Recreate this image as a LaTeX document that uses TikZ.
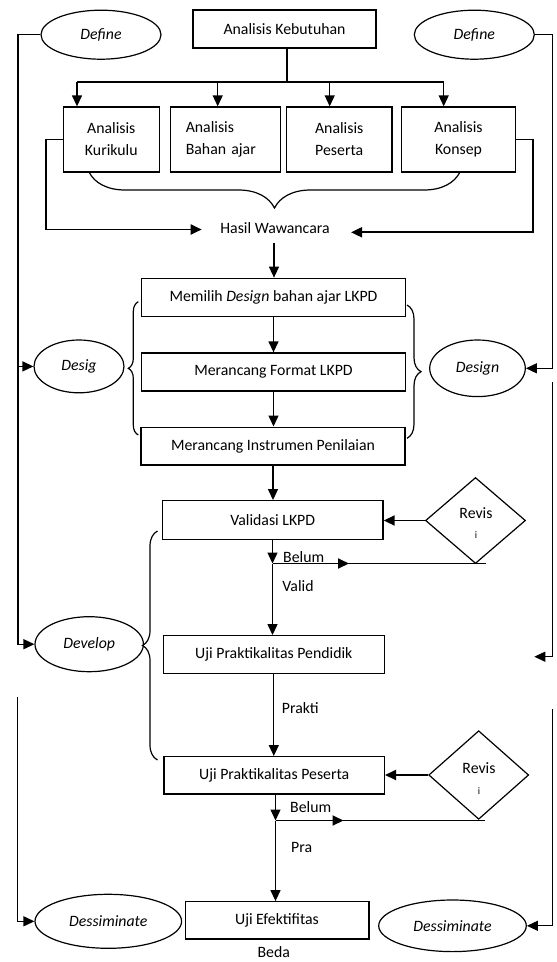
\documentclass[tikz,border=0pt]{standalone}
\usepackage{fontspec}
\setmainfont{Carlito}
\usetikzlibrary{shapes.geometric,arrows.meta,decorations.pathreplacing,calc}
\begin{document}
\begin{tikzpicture}[x=1pt,y=-1pt,
  every node/.style={font=\fontsize{15.8}{22}\selectfont},
  box/.style={draw, line width=1.3pt, inner sep=0pt, align=center},
  oval/.style={draw, ellipse, line width=1.2pt, inner sep=0pt, font=\fontsize{15.8}{19}\selectfont\itshape},
  dia/.style={draw, diamond, line width=1.2pt, inner sep=0pt, align=center},
  line/.style={line width=1.3pt},
  arr/.style={line width=1.3pt, -{Triangle[length=11pt,width=10pt]}},
  tarr/.style={line width=1.9pt, -{Triangle[length=11pt,width=10pt]}},
  brc/.style={decorate, decoration={brace, amplitude=#1}, line width=1.2pt},
  lbl/.style={inner sep=0pt},
  small/.style={inner sep=0pt, font=\fontsize{10}{10}\selectfont}
]
\useasboundingbox (0,0) rectangle (557,962);

% top
\node[box, minimum width=183pt, minimum height=38pt] (keb) at (284.5,29) {Analisis Kebutuhan};
\node[box, minimum width=96pt, minimum height=65pt] (a1) at (111.3,139.5) {Analisis\\Kurikulu};
\node[box, minimum width=110pt, minimum height=65pt, align=left, text width=79pt] (a2) at (225.3,139.5) {Analisis\\Bahan ajar};
\node[box, minimum width=105.7pt, minimum height=65pt] (a3) at (339.2,139.5) {Analisis\\Peserta};
\node[box, minimum width=114.4pt, minimum height=65pt] (a4) at (458.5,139.5) {Analisis\\Konsep};
\node[lbl] (hasil) at (275,228) {Hasil Wawancara};

% ellipses
\node[oval, minimum width=120pt, minimum height=49pt] (defL) at (101,34.7) {Define};
\node[oval, minimum width=120pt, minimum height=49pt] (defR) at (474.3,34.7) {Define};
\node[oval, minimum width=90pt, minimum height=52.8pt] (desigL) at (79,366.4) {Desig};
\node[oval, minimum width=95.6pt, minimum height=56.6pt] (designR) at (477.5,368.3) {Design};
\node[oval, minimum width=108.4pt, minimum height=55pt] (devL) at (89.2,644.2) {Develop};
\node[oval, minimum width=146.6pt, minimum height=54pt] (dessL) at (108.3,921.3) {Dessiminate};
\node[oval, minimum width=147.6pt, minimum height=51.6pt] (dessR) at (452.5,925.8) {Dessiminate};

% design boxes
\node[box, minimum width=263.6pt, minimum height=38.4pt] (des1) at (273.5,297.5) {Memilih \textit{Design} bahan ajar LKPD};
\node[box, minimum width=263.6pt, minimum height=38pt] (des2) at (273.5,372) {Merancang Format LKPD};
\node[box, minimum width=264pt, minimum height=37.7pt] (des3) at (273,446) {Merancang Instrumen Penilaian};

% develop boxes
\node[box, minimum width=220.7pt, minimum height=38.6pt] (val) at (272.7,520) {Validasi LKPD};
\node[box, minimum width=221pt, minimum height=37.6pt] (ujp) at (273.8,654.5) {Uji Praktikalitas Pendidik};
\node[box, minimum width=220.3pt, minimum height=37.3pt] (ujs) at (274.2,775.3) {Uji Praktikalitas Peserta};
\node[box, minimum width=183.7pt, minimum height=37.3pt] (efk) at (277,920.4) {Uji Efektifitas};

\node[dia, minimum width=100pt, minimum height=86pt] (rev1) at (475.5,520.5) {};
\node[lbl] (rev1a) at (476,513.5) {Revis};
\node[small] (rev1b) at (476,535.5) {i};
\node[dia, minimum width=100pt, minimum height=88.6pt] (rev2) at (478.7,775) {};
\node[lbl] (rev2a) at (479,768.5) {Revis};
\node[small] (rev2b) at (479,791.5) {i};

% labels
\node[lbl] (bel1) at (303.7,557.3) {Belum};
\node[lbl] (valid) at (298,586) {Valid};
\node[lbl] (prakti) at (300.3,708.3) {Prakti};
\node[lbl] (bel2) at (310.7,806.7) {Belum};
\node[lbl] (pra) at (301.7,847.3) {Pra};
\node[lbl] (beda) at (273.7,952) {Beda};

% top bus
\coordinate (kj) at (287,82);
\coordinate (busL) at (77,82);
\coordinate (b2) at (217.7,82);
\coordinate (b3) at (329.7,82);
\coordinate (busR) at (443.7,82);
\draw[line] (keb.south -| kj) -- (kj);
\draw[line] (busL) -- (busR);
\draw[arr] (busL) -- (busL |- a1.north);
\draw[arr] (b2) -- (b2 |- a2.north);
\draw[arr] (b3) -- (b3 |- a3.north);
\draw[arr] (busR) -- (busR |- a4.north);

% brace under analysis boxes
\draw[brc=36pt] (460,172) -- (89,172);

% loops into Hasil Wawancara
\coordinate (hL) at (201.7,229.5);
\coordinate (hR) at (351,232.3);
\draw[tarr] (a1.west) -- (45.7,139.5) -- (45.7,229.5) -- (hL);
\draw[tarr] (a4.east) -- (533,139.5) -- (533,232.3) -- (hR);
\coordinate (hB) at (274,243.3);
\draw[arr] (hB) -- (hB |- des1.north);

% design chain
\draw[arr] (des1.south) -- (des1.south |- des2.north);
\draw[arr] (des2.south) -- (des2.south |- des3.north);
\draw[arr] (des3.south) -- (des3.south |- val.north);
\draw[brc=10pt] (138.3,435) -- (138.3,301.7);
\draw[brc=14pt] (407,305) -- (407,438.3);

% develop chain
\coordinate (j1) at (272.5,563.5);
\coordinate (r1e) at (486,563.5);
\coordinate (t1a) at (310,563.5);
\coordinate (t1b) at (349,563.5);
\draw[arr] (val.south -| j1) -- (j1);
\draw[arr] (j1) -- (j1 |- ujp.north);
\draw[line] (j1) -- (r1e);
\draw[tarr] (t1a) -- (t1b);
\draw[tarr] (rev1.west) -- (rev1.west -| val.east);

\draw[arr] (ujp.south) -- (ujp.south |- ujs.north);
\coordinate (j2) at (275.5,820.5);
\coordinate (r2e) at (485.3,820.5);
\coordinate (t2a) at (286,820.5);
\coordinate (t2b) at (343.5,820.5);
\draw[arr] (ujs.south -| j2) -- (j2);
\draw[arr] (j2) -- (j2 |- efk.north);
\draw[line] (j2) -- (r2e);
\draw[tarr] (t2a) -- (t2b);
\draw[tarr] (rev2.west) -- (rev2.west -| ujs.east);

\draw[brc=15pt] (157.5,760) -- (157.5,531);

% left side lines
\coordinate (L1) at (18,644.2);
\draw[arr] (defL.west) -| (L1) -- (devL.west);
\draw[arr] (L1 |- desigL.west) -- (desigL.west);
\coordinate (L2) at (17.5,697);
\draw[arr] (L2) |- (dessL.west);

% right side lines
\coordinate (R1) at (552.3,368.3);
\draw[arr] (defR.east) -| (R1) -- (designR.east);
\coordinate (R2) at (552.3,382);
\coordinate (R2e) at (534.3,656.7);
\draw[arr] (R2) |- (R2e);
\coordinate (R3) at (552.3,709.3);
\draw[arr] (R3) |- (dessR.east);
\end{tikzpicture}
\end{document}
